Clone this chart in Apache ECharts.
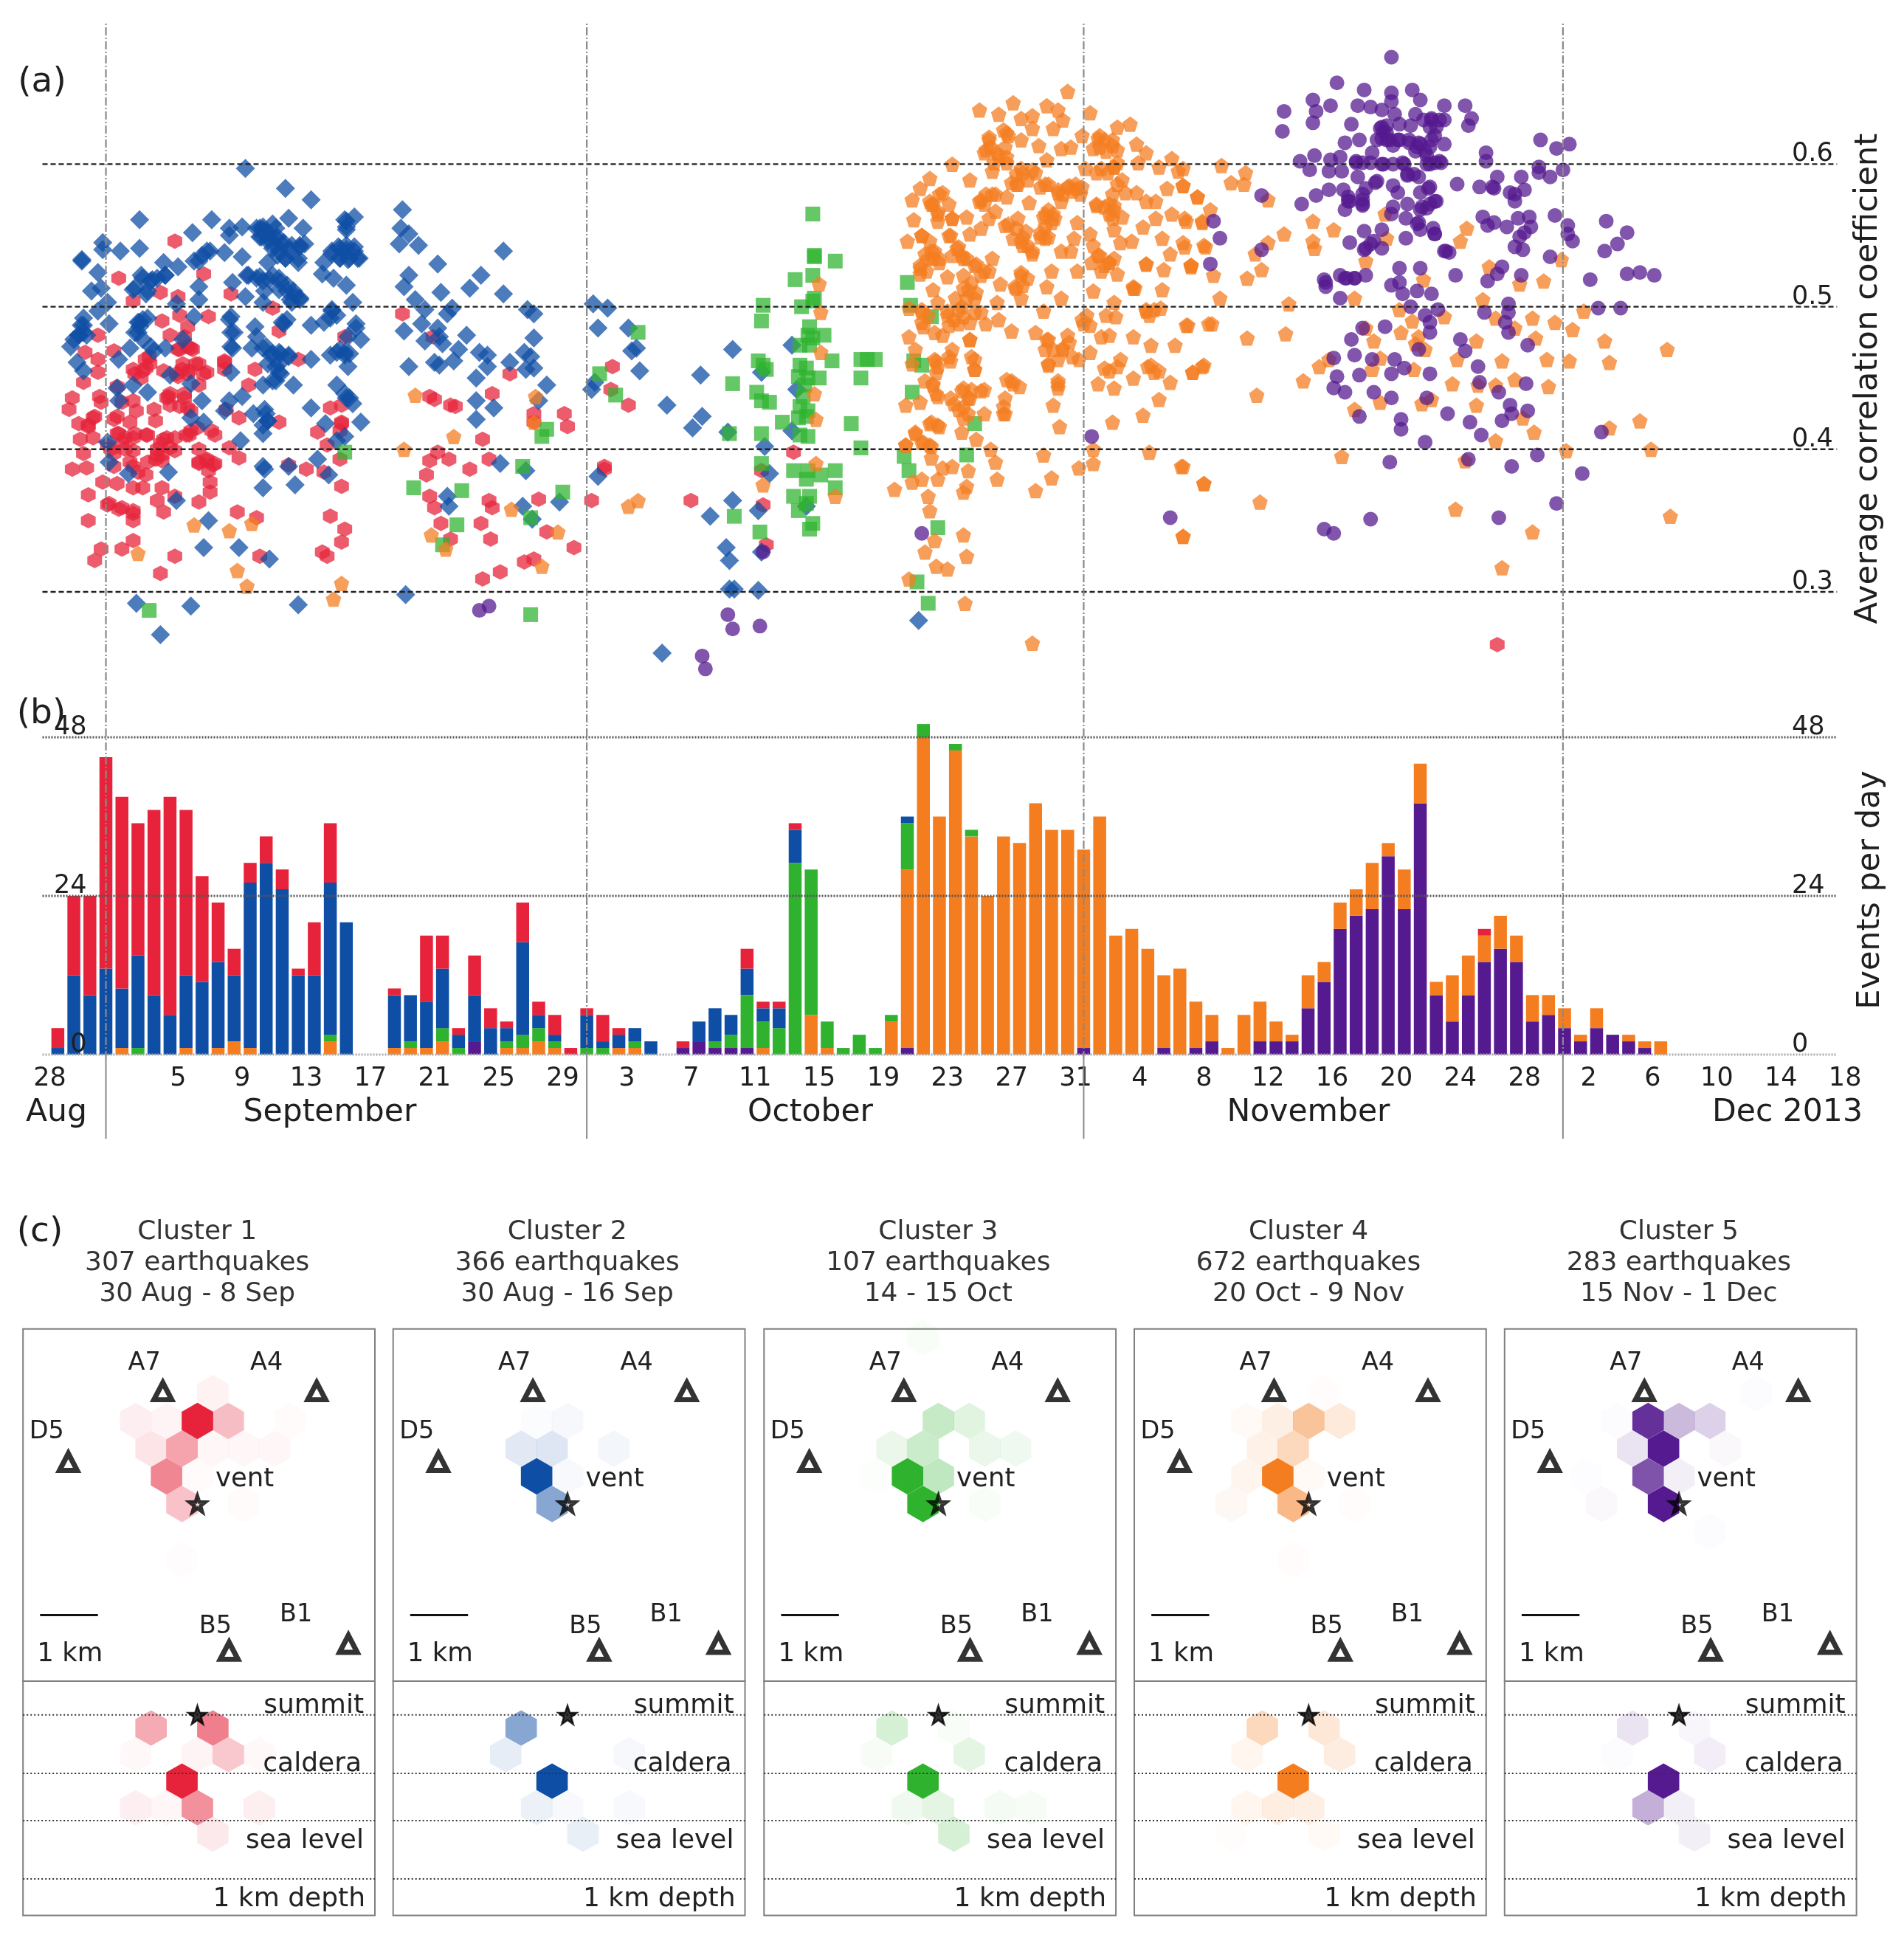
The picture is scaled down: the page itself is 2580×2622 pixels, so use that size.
<!DOCTYPE html>
<html><head><meta charset="utf-8">
<style>html,body{margin:0;padding:0;background:#fff}#c{width:2580px;height:2622px}</style>
<script src="https://cdn.jsdelivr.net/npm/echarts@6/dist/echarts.min.js"></script>
</head><body><div id="c"></div>
<script>
// ---------- panel (a): day since 28 Aug, average correlation coefficient ----------
const scatterBlue=[[12.2,.597],[14.7,.583],[16.3,.575],[5.6,.561],[10.1,.561],[19,.563],[18.5,.56],[8.9,.552],[11.2,.555],[12,.556],[13.1,.555],[13.6,.552],[14.1,.555],[14.9,.562],[15.8,.555],[11.2,.55],[3.3,.545],[3.3,.54],[4.4,.539],[5.6,.541],[2,.532],[2,.533],[3,.524],[7.1,.531],[8,.528],[9.3,.532],[9.8,.539],[10.9,.538],[12,.535],[13.1,.549],[13.6,.548],[14.1,.548],[14.6,.545],[15.1,.543],[15.6,.542],[14.3,.539],[14.7,.534],[15.5,.531],[13.6,.531],[14.1,.543],[13.3,.554],[12.3,.522],[13.1,.521],[13.7,.519],[14.3,.52],[14.8,.515],[15.2,.511],[15.6,.506],[15.1,.503],[14.3,.512],[13.4,.511],[13.3,.503],[18.5,.554],[18,.542],[18.5,.54],[19,.542],[19.2,.534],[18.6,.533],[17.6,.537],[17.1,.531],[18.1,.534],[17,.523],[17.7,.52],[18.5,.515],[11.4,.517],[9.3,.514],[12.2,.507],[9.3,.505],[5.7,.522],[6.4,.519],[5.2,.512],[7.2,.522],[6,.509],[2.6,.511],[3.2,.513],[3.6,.503],[7.9,.502],[3,.497],[2.1,.492],[3.7,.488],[5.6,.489],[9,.493],[11.3,.493],[14.6,.488],[17.6,.497],[18.9,.503],[16.3,.487],[17.1,.489],[19.1,.488],[1.3,.472],[1.8,.48],[2.3,.48],[2.1,.487],[5.5,.482],[5.6,.486],[6.1,.492],[5,.471],[8.3,.477],[6.5,.469],[7.2,.471],[11.3,.482],[11.4,.471],[12.8,.486],[12.9,.479],[12.6,.471],[19.4,.477],[18.6,.479],[18.4,.466],[17.5,.466],[17.9,.468],[19.1,.485],[13.3,.471],[13.8,.466],[14.3,.468],[14.9,.466],[13.6,.46],[14.3,.46],[14.1,.448],[14.3,.454],[16.3,.463],[18.6,.458],[1.7,.461],[2.1,.455],[4.3,.463],[4.2,.443],[4.3,.434],[5.2,.445],[6.1,.44],[7.5,.452],[8.8,.446],[9.5,.434],[11.3,.454],[13.3,.445],[15.2,.445],[17.9,.445],[18.5,.436],[18.9,.432],[12,.437],[11.2,.434],[10.9,.427],[12.7,.425],[13.4,.428],[13.6,.42],[13.3,.411],[16.3,.429],[17.2,.418],[19.4,.419],[18.4,.409],[17.9,.406],[9.6,.419],[8.8,.422],[11.9,.406],[3.6,.405],[3.7,.391],[4.9,.383],[7.4,.384],[13.3,.388],[13.4,.386],[14.9,.388],[16.7,.393],[17.4,.382],[13.3,.373],[15.3,.375],[24.8,.367],[7.9,.364],[9.9,.35],[9.6,.331],[11.8,.331],[13.7,.323],[24.9,.36],[5.4,.292],[8.8,.29],[15.5,.291],[6.9,.27],[22.2,.298],[22,.568],[21.9,.555],[22.4,.551],[21.8,.544],[23,.543],[28.3,.539],[24.2,.53],[26.9,.522],[26.2,.513],[28.3,.509],[22.4,.522],[22.1,.514],[24.4,.51],[22.8,.505],[23.4,.498],[25.1,.499],[24.8,.495],[29.8,.498],[30.2,.495],[22.1,.483],[23.2,.488],[24.2,.485],[24.3,.479],[23.4,.476],[24.5,.474],[26,.48],[25.5,.47],[30.2,.478],[26.8,.468],[27.3,.466],[22.4,.458],[24,.461],[24.3,.459],[25.2,.462],[27.3,.458],[28.7,.461],[29.6,.468],[30,.465],[30.2,.457],[29.7,.456],[26.6,.45],[31,.445],[30.5,.434],[26.6,.434],[27.7,.429],[26.6,.421],[28.1,.39],[29.7,.385],[29.5,.36],[30.1,.351],[31.8,.363],[33.9,.502],[34.8,.499],[34.2,.485],[36.1,.485],[36.6,.471],[36.3,.469],[36.8,.455],[33.8,.442],[34,.447],[40.6,.452],[38.5,.431],[40.7,.423],[40.1,.415],[42.6,.47],[44.4,.454],[46.3,.473],[46.6,.442],[42.3,.412],[46.3,.413],[44.6,.402],[34.2,.381],[44.9,.383],[42.6,.364],[41.2,.353],[44.2,.357],[47.2,.36],[42.2,.331],[42.4,.322],[44.4,.328],[42.4,.302],[42.7,.302],[44.2,.301],[38.2,.257],[54.2,.28],
[12.9,.555],[13.3,.556],[13.9,.558],[13.2,.549],[13.6,.546],[14.2,.549],[14.5,.544],[15,.539],[13.9,.541],[14.7,.534],[15.6,.543],[15.9,.544],[15.5,.534],[14.2,.536],[13.5,.551],[17.6,.539],[18.1,.541],[18.5,.543],[19,.539],[19.3,.534],[18.7,.534],[18.1,.534],[18.5,.556],[18.4,.561],[12.4,.522],[12.9,.52],[13.3,.518],[13.9,.522],[14.4,.517],[14.8,.511],[15.3,.508],[15.6,.505],[15,.505],[5.3,.513],[5.8,.52],[6.3,.518],[6.7,.52],[7.2,.522],[6.1,.511],[9.5,.536],[10,.539],[9,.532],[1.8,.48],[2.1,.482],[1.5,.477],[1.96,.487],[5.5,.489],[5.8,.491],[5.3,.482],[5.8,.477],[6.3,.472],[13.5,.472],[13.9,.467],[14.4,.467],[14.9,.465],[14.1,.458],[14.4,.453],[13.9,.448],[18.1,.47],[18.4,.468],[18.7,.467],[11.2,.491],[11.5,.482],[11.3,.472],[13.5,.425],[13.6,.42],[13.3,.417],[17.6,.498],[17.5,.492],[17.9,.494],[14.5,.489],[14.8,.491],[18.4,.439],[18.7,.436]];
const scatterRed=[[7.8,.546],[4.3,.52],[9.6,.523],[6.9,.51],[5.2,.504],[8,.507],[11.3,.509],[13.9,.499],[9.9,.493],[7,.49],[8.1,.494],[8.6,.486],[14.3,.483],[3,.48],[7.5,.48],[8.4,.479],[18.4,.479],[2.2,.468],[4,.469],[3,.463],[6.2,.465],[8,.47],[8.8,.471],[15.5,.463],[10.9,.462],[5.2,.456],[6,.457],[7.1,.455],[8.3,.46],[9.1,.46],[9.8,.454],[12.8,.456],[10.9,.456],[3,.454],[2.1,.447],[5.7,.45],[8,.451],[8.6,.453],[9.3,.445],[4.2,.444],[12.4,.445],[1.4,.436],[3.1,.437],[3.2,.433],[5.2,.434],[7.4,.437],[8.4,.436],[4.5,.433],[1.2,.428],[2.8,.423],[4.2,.423],[5.4,.427],[6.5,.428],[7.5,.431],[8.8,.427],[11,.428],[17.5,.429],[18.2,.431],[1.8,.418],[2.4,.416],[4,.421],[5,.419],[6.6,.42],[8.8,.413],[10.1,.413],[11.8,.422],[14.3,.419],[18.2,.419],[1.9,.407],[2.7,.408],[4.2,.411],[5.2,.408],[6,.41],[7.1,.407],[7.8,.408],[8.5,.41],[10.3,.41],[16.7,.412],[18.1,.413],[3.6,.403],[4.5,.405],[6.7,.4],[9.3,.4],[11.2,.401],[17.3,.403],[2.1,.397],[4,.397],[5.2,.399],[7,.396],[7.8,.399],[11.8,.394],[18.1,.393],[1.4,.386],[2.3,.387],[4,.388],[5.2,.388],[6.1,.391],[6.6,.393],[9.3,.39],[9.8,.393],[10.3,.39],[16,.386],[17.1,.384],[14.9,.389],[3.3,.377],[4.2,.376],[6,.382],[7,.373],[10,.377],[18.2,.374],[5.2,.373],[10,.37],[2.4,.368],[3.7,.362],[4.5,.359],[5.2,.357],[6.7,.364],[7.8,.367],[7.1,.356],[9.3,.363],[2.4,.35],[5.2,.35],[11.7,.356],[12.9,.352],[17.5,.353],[18.4,.344],[5.2,.336],[3.2,.33],[4.5,.33],[2.8,.322],[7.8,.325],[6.9,.313],[13.1,.325],[17,.328],[17.3,.325],[18.2,.335],[22,.495],[23.7,.437],[24,.435],[25,.431],[25.3,.43],[27.6,.439],[28.7,.453],[23.9,.479],[30.2,.425],[30.2,.419],[32.1,.425],[32.3,.416],[27,.407],[24.2,.398],[23.7,.392],[24.9,.393],[23.5,.382],[26.2,.386],[27.4,.393],[23.7,.367],[24,.359],[24.4,.348],[27.4,.364],[27.6,.359],[30.5,.365],[26.9,.348],[27.5,.337],[25,.337],[31,.342],[32.7,.331],[29.6,.321],[30.2,.323],[28.1,.314],[27,.309],[35.1,.458],[35,.442],[36.1,.431],[34.6,.388],[34.6,.386],[33.8,.364],[40,.364],[46.4,.398],[44.5,.361],[44.7,.333],[44.4,.385],[90.3,.263],
[5.95,.463],[5.8,.455],[6.25,.46],[8.1,.47],[8.6,.472],[8.9,.47],[8.25,.456],[8.7,.455],[9.3,.46],[9.6,.453],[7.9,.453],[7.5,.439],[8.4,.439],[8.1,.43],[8.6,.429],[7.3,.436],[4.3,.411],[4.7,.408],[5.3,.411],[6.1,.41],[4.7,.4],[6.9,.404],[7.3,.408],[6.7,.396],[7,.392],[3.8,.4],[7.5,.401],[9.3,.391],[9.8,.392],[10.2,.389],[9.9,.385],[3.6,.361],[4.3,.358],[5.2,.355],[2.4,.417],[2.7,.422],[5.3,.453],[5,.391],[5.5,.384],[5.8,.373],[8.7,.41],[9.2,.415],[10.9,.461],[18.2,.418]];
const scatterGreen=[[47.6,.565],[47.7,.535],[47.7,.536],[49,.532],[46.5,.519],[47.6,.522],[47.7,.506],[47.6,.504],[44.5,.501],[44.4,.49],[46.9,.5],[47.4,.486],[47.3,.48],[47.6,.478],[48.3,.48],[46.8,.473],[47.4,.473],[44.2,.462],[44.5,.459],[44.7,.456],[48.8,.462],[50.6,.463],[51.5,.463],[51,.463],[50.6,.45],[46.8,.459],[47.2,.457],[46.7,.451],[47.3,.45],[48,.45],[47.1,.445],[42.6,.446],[44.1,.44],[44.4,.434],[44.9,.433],[47,.437],[46.8,.43],[47.3,.427],[46.7,.422],[47.2,.423],[45.7,.419],[50,.418],[44.4,.411],[42.4,.411],[46.8,.41],[47.3,.409],[50.6,.401],[44.4,.39],[46.4,.385],[47.3,.385],[47.2,.379],[48.1,.382],[49,.385],[49,.373],[46.4,.367],[47.4,.367],[46.7,.357],[47.2,.362],[42.7,.353],[44.3,.342],[47.6,.348],[47.4,.344],[53.5,.517],[53.7,.501],[55,.493],[53.9,.462],[54.4,.459],[53.8,.44],[57.7,.418],[53.3,.395],[57.2,.396],[53.6,.385],[55.4,.345],[54.1,.307],[54.8,.292],[18.4,.398],[22.7,.373],[25.7,.371],[25.4,.347],[24.5,.333],[29.5,.388],[31,.414],[30.7,.409],[32,.37],[30,.352],[30,.284],[6.2,.287],[34.3,.453],[35.3,.438],[36.7,.482]];
const scatterOrange=[[22.8,.438],[25.2,.409],[22.1,.4],[30.3,.437],[30.2,.419],[9,.347],[11.2,.343],[12.6,.348],[5.5,.327],[11.7,.315],[12.3,.304],[18.2,.306],[17.7,.295],[23.8,.34],[24.7,.33],[28.8,.358],[31.7,.342],[30.7,.318],[63.5,.651],[58,.638],[59.2,.635],[60.1,.643],[62.2,.641],[62.9,.638],[64.9,.636],[60.6,.632],[61.3,.634],[61.3,.625],[63.2,.631],[62.6,.625],[66.6,.626],[67.4,.628],[59.7,.622],[58.6,.617],[60.6,.617],[65.4,.618],[64.4,.62],[66.3,.617],[67.8,.614],[58.3,.608],[59.1,.608],[59.7,.605],[61.7,.613],[63.1,.611],[63.7,.612],[65.1,.611],[65.9,.609],[68.4,.608],[70,.604],[56.3,.6],[58.8,.595],[60.6,.597],[61.5,.594],[62.2,.603],[64.6,.597],[65.6,.597],[66.4,.598],[67.9,.601],[69.2,.598],[70.4,.595],[54.9,.59],[54.3,.583],[57.4,.589],[60.3,.586],[62.1,.586],[63.6,.585],[64.1,.583],[66.9,.589],[67.8,.58],[69.7,.583],[70.7,.585],[62.9,.58],[55.7,.58],[53.8,.575],[55,.572],[58,.574],[58.8,.579],[61.1,.573],[63.1,.574],[65.3,.571],[66.4,.571],[67.1,.58],[68.4,.574],[69,.574],[71.6,.577],[53.9,.561],[55.4,.565],[56.3,.562],[57.2,.563],[58.6,.562],[59.6,.557],[62.1,.565],[62.5,.559],[64.1,.559],[66.1,.565],[68.2,.556],[69,.562],[70,.565],[70.9,.56],[71.9,.56],[58.1,.555],[60.3,.555],[61.8,.552],[64.9,.551],[66.4,.554],[60.1,.548],[62.1,.548],[63.9,.548],[53.5,.546],[54.4,.55],[56.2,.55],[55,.539],[56.7,.542],[60.7,.543],[61.3,.539],[63.7,.539],[65.1,.543],[66.8,.545],[67.5,.546],[69.4,.548],[70.7,.545],[72,.543],[54.3,.529],[54.8,.534],[55.5,.531],[57,.534],[57.7,.529],[58.8,.534],[63.1,.539],[65.4,.536],[66.1,.531],[68.4,.53],[69.9,.537],[71.2,.528],[69.5,.526],[54.3,.523],[56,.521],[57,.522],[58.3,.525],[60.6,.522],[62.5,.525],[64.1,.525],[65.6,.525],[66.6,.523],[55.1,.512],[57.3,.512],[59.3,.516],[60.2,.514],[62.2,.514],[65.1,.511],[67.6,.514],[69.4,.512],[55.4,.503],[56.5,.506],[57.7,.506],[59.1,.503],[60.6,.506],[63.1,.506],[66.4,.503],[53.6,.499],[54.4,.496],[56,.497],[56.9,.5],[58.1,.496],[62,.497],[65.9,.494],[68.4,.497],[69.3,.499],[54.5,.486],[55.2,.482],[56.7,.488],[58.4,.488],[59.2,.491],[60,.483],[61.5,.482],[64.5,.488],[66.5,.493],[70.9,.487],[72.3,.488],[53.6,.479],[55.7,.48],[57.4,.477],[62.2,.477],[63.5,.48],[65.6,.479],[67.6,.479],[66.1,.48],[54,.47],[56.3,.47],[57.7,.463],[62.1,.47],[63.2,.471],[64.9,.468],[68.7,.473],[70.2,.473],[55.3,.462],[53.8,.46],[56.2,.462],[62.3,.459],[64.2,.463],[66.8,.463],[68.7,.459],[71.9,.458],[55.3,.454],[57.7,.456],[65.8,.457],[67.6,.45],[68.9,.454],[71.3,.454],[69.9,.447],[55.1,.445],[60,.448],[60.5,.444],[62.9,.446],[65.4,.446],[66.4,.443],[55.3,.439],[57,.443],[58.3,.442],[56.2,.436],[57.3,.436],[59.6,.436],[62.6,.431],[69.2,.435],[53.4,.431],[54.3,.433],[56.7,.428],[57.3,.425],[58.3,.425],[59.6,.425],[68.2,.424],[55,.419],[55.5,.416],[63,.416],[66.3,.419],[56.9,.412],[54,.412],[57.8,.407],[54.5,.405],[55,.402],[53.4,.403],[58.7,.4],[65.1,.4],[68.6,.398],[55,.394],[55.7,.387],[56.3,.388],[57.3,.385],[59,.391],[62,.396],[65.1,.39],[64.2,.387],[70.6,.388],[53.8,.377],[54.4,.379],[55.4,.379],[57.2,.374],[59.1,.379],[62.5,.38],[72,.376],[52.7,.372],[57,.37],[61.5,.371],[54.8,.367],[54.9,.357],[49,.367],[44.5,.375],[36.1,.36],[36.7,.364],[57,.34],[55.2,.336],[54.6,.328],[57.2,.325],[55.3,.318],[56,.316],[53.6,.309],[57.1,.292],[61.3,.264],[70.7,.339],[48,.516],[48.1,.496],[47.7,.439],[47.8,.421],[47.8,.39],[48.1,.468],[73.1,.599],[74.6,.594],[73.7,.587],[74.5,.586],[70.7,.597],[70.7,.585],[71.6,.577],[72.4,.568],[76,.575],[70.8,.562],[71.9,.559],[78.8,.56],[80.1,.554],[77,.551],[76,.545],[75.2,.537],[78.8,.546],[78.9,.541],[83.3,.565],[83.4,.548],[88.4,.555],[88,.546],[82.1,.532],[72.1,.542],[70.8,.542],[71.2,.529],[72.6,.522],[75.6,.526],[74.7,.52],[73,.506],[77.3,.502],[81.4,.506],[85.7,.519],[89.8,.528],[91.7,.516],[93.2,.518],[94.3,.533],[89.4,.505],[84.2,.498],[95.7,.497],[71,.487],[72.5,.488],[74.7,.478],[77.1,.481],[85,.49],[87,.493],[90.2,.492],[91.4,.485],[92.5,.492],[93.9,.489],[95,.484],[82.1,.485],[82.6,.476],[84.3,.482],[85.4,.479],[85.2,.474],[85.8,.47],[89,.476],[92.7,.478],[97,.476],[100.9,.47],[87.8,.463],[90.6,.462],[93.4,.463],[94.8,.462],[97.3,.461],[72,.459],[71.3,.454],[79.2,.458],[79.8,.463],[78.2,.448],[83,.464],[82.5,.456],[85.1,.456],[87.5,.446],[75.3,.438],[89.1,.445],[90.2,.445],[91.4,.449],[93.5,.444],[81.4,.428],[83,.433],[85.6,.432],[86.2,.435],[89,.431],[91.9,.422],[97.3,.415],[99.2,.42],[92.6,.412],[90.2,.406],[94.6,.399],[99.9,.4],[80.6,.395],[88.3,.392],[70.7,.388],[72,.376],[75.5,.363],[87.7,.358],[101.1,.353],[92.5,.342],[70.7,.339],[90.6,.317],
[58.4,.61],[58.7,.612],[59.2,.606],[59.6,.612],[59.7,.601],[58.9,.601],[59.8,.62],[58.6,.619],[59.5,.624],[60.3,.593],[60.7,.594],[60.4,.586],[60,.587],[61,.589],[61.3,.596],[61.8,.584],[62.3,.586],[62.9,.582],[63.5,.584],[64,.586],[64.4,.584],[63.2,.579],[63.8,.581],[64.3,.579],[65.8,.617],[66.3,.613],[66.6,.61],[65.5,.612],[66,.594],[65.3,.594],[66.4,.598],[65.5,.62],[66.6,.601],[62.3,.568],[62,.563],[62.6,.565],[62.1,.556],[62.3,.549],[61.8,.549],[62.7,.562],[66.6,.586],[66.3,.579],[66.1,.572],[66.4,.568],[65.8,.57],[66.3,.562],[66.9,.563],[65.3,.572],[55.1,.572],[55.4,.567],[55.5,.579],[55.4,.56],[56.1,.572],[56.3,.562],[54.9,.574],[58.1,.575],[58.4,.579],[59,.579],[59.7,.577],[58.3,.572],[59,.567],[59.8,.558],[60.4,.562],[60.7,.549],[61,.543],[61.3,.537],[60.6,.546],[60.9,.553],[54.4,.55],[54.9,.546],[55.2,.539],[55.5,.534],[54.6,.537],[55.1,.534],[56.1,.55],[56.6,.541],[56.9,.536],[57.2,.534],[57.8,.53],[56.3,.536],[57.4,.551],[54.3,.527],[54.7,.525],[57,.513],[57.5,.517],[57.2,.506],[58.1,.522],[58.6,.525],[57.8,.51],[60.6,.524],[60.3,.513],[61,.52],[60.7,.515],[54.4,.498],[54.8,.494],[54.4,.489],[56,.494],[56.4,.491],[57,.493],[57.7,.496],[56.7,.498],[56.1,.487],[57.4,.489],[65.5,.536],[66.1,.531],[65.8,.529],[66.4,.534],[65,.531],[64.4,.491],[64.9,.487],[64.7,.494],[68.4,.498],[68.9,.498],[68.6,.494],[62.3,.477],[62.6,.47],[62.3,.46],[63.2,.47],[63.6,.475],[62.9,.463],[63.8,.465],[56.9,.441],[57.5,.442],[58.1,.441],[56.4,.432],[57,.43],[57.4,.436],[57,.422],[55.2,.463],[55.4,.458],[55.1,.446],[55.4,.437],[54.6,.448],[68.5,.458],[69.2,.455],[71.2,.529],[68.4,.53],[67.6,.513],[67.7,.513],[57.4,.477],[57.5,.465],[57.7,.456],[56.1,.465],[54.9,.418],[55.4,.417],[54,.411],[54.9,.403],[54.4,.405],[53.4,.403],[59.5,.43],[59.5,.425],[60.1,.446],[59.7,.449],[62.9,.448],[62.9,.443],[66.1,.455],[66.6,.458]];
const scatterPurple=[[83.7,.675],[80.3,.657],[77,.637],[76.9,.623],[78.8,.645],[79,.637],[78.8,.629],[79.9,.641],[81.6,.641],[82,.652],[82.4,.64],[83.1,.638],[83.7,.65],[83.7,.644],[85,.652],[85.5,.645],[87,.641],[88.3,.641],[88.7,.632],[88.5,.627],[81.2,.628],[83.9,.635],[85.2,.635],[86.2,.632],[87,.631],[83.1,.626],[84.2,.628],[84.9,.627],[86.1,.626],[86.5,.626],[80.8,.615],[81.7,.617],[82.8,.617],[83.4,.617],[84.1,.617],[84.8,.615],[85.5,.614],[86.2,.617],[87,.614],[83.2,.623],[85.8,.609],[78,.602],[78.9,.606],[78.6,.596],[79.9,.603],[80.5,.605],[79.8,.595],[80.6,.595],[81.5,.602],[82.5,.608],[83.2,.6],[84.4,.601],[85.2,.609],[86.1,.6],[86.7,.602],[89.6,.608],[89.6,.602],[93,.617],[94,.611],[94.8,.614],[92.9,.598],[92.9,.594],[93.6,.591],[94.4,.596],[81.6,.591],[82.8,.588],[84.7,.592],[85.4,.591],[87.8,.586],[90.3,.591],[91.8,.591],[89.2,.584],[90.1,.583],[92,.582],[91.1,.58],[91.4,.579],[91.4,.574],[79.8,.582],[80.7,.582],[79,.578],[82.1,.583],[83.8,.585],[84.1,.58],[85.5,.58],[86,.583],[78.1,.572],[81,.574],[81.9,.575],[81.9,.571],[80.8,.568],[83.8,.57],[84.7,.572],[86.4,.574],[85.9,.569],[85.5,.568],[83.7,.565],[84.6,.562],[85.4,.559],[85.5,.554],[86.3,.555],[86.4,.551],[89.4,.563],[89.7,.557],[90.1,.559],[90.9,.556],[91.6,.562],[92.3,.563],[92.4,.556],[92,.552],[91.7,.549],[93.9,.564],[94.7,.557],[94.7,.551],[95,.546],[97.1,.56],[98.4,.552],[97.8,.544],[97,.539],[72.6,.56],[73,.548],[72.4,.53],[75.6,.578],[75.6,.54],[82,.553],[81.1,.545],[82.6,.546],[83.1,.554],[82,.54],[83.1,.541],[84.6,.548],[87,.539],[87.3,.538],[91.4,.542],[91.9,.54],[93.6,.535],[79.5,.519],[79.6,.514],[80.5,.522],[80.9,.52],[81.4,.52],[82.1,.522],[80.5,.506],[84.2,.527],[84.2,.517],[85.5,.527],[83.7,.515],[84.4,.509],[85.3,.511],[86.2,.509],[87.7,.522],[90.6,.528],[90.3,.523],[89.7,.518],[91.8,.522],[96.1,.519],[98.4,.523],[99.2,.524],[100.1,.522],[84.9,.5],[86.6,.498],[89.5,.496],[91,.502],[91,.496],[96.6,.499],[98,.499],[85.8,.494],[86.1,.489],[86.1,.482],[90.8,.489],[91,.482],[81.9,.485],[83.3,.486],[81.2,.477],[88,.477],[88.3,.469],[92.2,.473],[85.4,.47],[81.4,.466],[80.1,.464],[82.5,.463],[83.9,.463],[84.5,.457],[89.1,.458],[80.3,.451],[81.7,.452],[83.7,.453],[86.1,.453],[89.2,.447],[92.1,.446],[80.1,.443],[80.8,.44],[82.6,.44],[83.7,.436],[85.9,.436],[90.4,.44],[91.1,.431],[92.2,.427],[91.2,.425],[81.7,.423],[87.2,.425],[84.3,.421],[84.3,.414],[88.6,.419],[90.6,.42],[89.3,.41],[96.8,.412],[85.8,.405],[88.5,.393],[83.6,.391],[91.2,.388],[92.8,.396],[95.6,.383],[94,.362],[90.4,.352],[82.4,.351],[79.5,.344],[80.1,.341],[65,.409],[69.9,.352],[54.4,.341],[44.5,.328],[42.3,.284],[42.6,.274],[44.3,.276],[40.7,.255],[40.9,.246],[26.8,.287],[27.4,.29],
[83,.625],[83.4,.627],[83.1,.618],[83.6,.617],[84.2,.617],[84.8,.617],[85.4,.615],[86.1,.612],[83.4,.622],[83.8,.613],[86.2,.631],[86.7,.631],[85.7,.631],[86.4,.62],[85.3,.612],[85.9,.606],[81.5,.601],[81.9,.601],[82.4,.601],[83.1,.6],[83.8,.6],[84.5,.6],[85.9,.6],[86.4,.601],[86.8,.601],[81,.577],[81.9,.579],[81.1,.574],[81.9,.572],[84.7,.593],[85.1,.593],[82.7,.587],[86.1,.584],[85.6,.57],[86.1,.572],[86.5,.574],[86.4,.551],[85.3,.558],[82.4,.544],[82.1,.541],[87.1,.539],[90,.584],[79.6,.517],[80.8,.52],[81.4,.52]];
const corrLevels=[0.6,0.5,0.4,0.3];

// ---------- panel (b): events per day, one value per day from 28 Aug ----------
const eventsPurple=[0,0,0,0,0,0,0,0,0,0,0,0,0,0,0,0,0,0,0,0,0,0,0,0,0,0,2,0,0,0,0,0,0,0,0,0,0,0,0,1,2,1,1,1,0,0,0,0,0,0,0,0,0,1,0,0,0,0,0,0,0,0,0,0,1,0,0,0,0,1,0,1,2,0,0,2,2,2,7,11,19,21,22,30,22,38,9,5,9,14,16,14,5,6,4,2,4,3,2,1,0];
const eventsOrange=[0,0,0,0,1,0,0,0,1,0,1,2,1,0,0,0,0,2,0,0,0,1,1,1,2,0,0,0,1,1,2,1,0,0,0,1,1,0,0,0,0,0,0,0,1,0,0,6,1,0,0,0,5,27,48,36,46,33,24,33,32,38,34,34,30,36,18,19,16,11,13,7,4,1,6,6,3,1,5,3,4,4,7,2,6,6,2,7,6,4,5,4,4,3,3,1,3,0,1,1,2];
const eventsGreen=[0,0,0,0,0,1,0,0,0,0,0,0,0,0,0,0,0,1,0,0,0,0,1,0,2,1,0,0,1,2,2,1,0,1,1,0,1,0,0,0,0,1,2,8,4,4,29,22,4,1,3,1,1,7,2,0,1,1,0,0,0,0,0,0,0,0,0,0,0,0,0,0,0,0,0,0,0,0,0,0,0,0,0,0,0,0,0,0,0,0,0,0,0,0,0,0,0,0,0,0,0];
const eventsBlue=[1,12,9,13,9,14,9,6,11,11,13,10,25,29,25,12,12,23,20,0,0,8,7,7,9,2,7,4,2,14,2,1,0,5,1,2,2,2,0,0,3,5,3,4,2,3,5,0,0,0,0,0,0,1,0,0,0,0,0,0,0,0,0,0,0,0,0,0,0,0,0,0,0,0,0,0,0,0,0,0,0,0,0,0,0,0,0,0,0,0,0,0,0,0,0,0,0,0,0,0,0];
const eventsRed=[3,12,15,32,29,20,28,33,25,16,9,4,3,4,3,1,8,9,0,0,0,1,0,10,5,1,6,3,1,6,2,3,1,1,4,1,0,0,0,1,0,0,0,3,1,1,1,0,0,0,0,0,0,0,0,0,0,0,0,0,0,0,0,0,0,0,0,0,0,0,0,0,0,0,0,0,0,0,0,0,0,0,0,0,0,0,0,0,0,1,0,0,0,0,0,0,0,0,0,0,0];
const eventLevels=[48,24,0];
const dayTickLabels=['28','','5','9','13','17','21','25','29','3','7','11','15','19','23','27','31','4','8','12','16','20','24','28','2','6','10','14','18'];
const monthBoundaries=[3.5,33.5,64.5,94.4];
const monthLabels=['Aug','September','October','November','Dec 2013'];

// ---------- panel (c): hexbin cells [column, row, share of the densest cell] ----------
const mapCluster1=[[0,3,1],[2,3,.3],[-1,2,.42],[-2,1,.55],[-1,0,.28],[-4,3,.07],[-2,3,.05],[-3,2,.12],[1,4,.06],[1,2,.04],[3,2,.04],[5,2,.04],[6,3,.02],[3,0,.02],[-1,-2,.01],[0,1,.02]];
const secCluster1=[[-3,2,.38],[1,2,.58],[2,1,.25],[-1,0,1],[0,-1,.5],[1,-2,.1],[-4,-1,.07],[-2,-1,.04],[4,-1,.08],[-4,1,.03],[0,1,.05],[4,1,.03]];
const mapCluster2=[[-2,1,1],[-1,0,.5],[-3,2,.12],[-1,2,.14],[3,2,.05],[0,3,.04],[0,1,.03],[-2,3,.02]];
const secCluster2=[[-3,2,.5],[-1,0,1],[-4,1,.1],[4,1,.04],[-2,-1,.08],[0,-1,.03],[1,-2,.09],[4,-1,.03]];
const mapCluster3=[[-2,1,1],[-1,0,1],[0,3,.28],[-1,2,.25],[0,1,.3],[2,3,.15],[-3,2,.1],[3,2,.1],[5,2,.08],[3,0,.03],[-4,1,.02],[-1,6,.03]];
const secCluster3=[[-3,2,.2],[-1,0,1],[2,1,.13],[-4,1,.04],[1,-2,.2],[0,-1,.13],[-2,-1,.08],[4,-1,.05],[6,-1,.04],[1,2,.03]];
const mapCluster4=[[-2,1,1],[-1,0,.55],[0,3,.45],[-1,2,.3],[2,3,.16],[-2,3,.12],[-3,2,.1],[-4,1,.08],[-5,0,.05],[-4,3,.04],[0,1,.04],[1,4,.02],[3,0,.02],[-1,-2,.02]];
const secCluster4=[[-3,2,.3],[-1,0,1],[1,2,.18],[2,1,.14],[-4,1,.07],[-4,-1,.07],[-2,-1,.13],[0,-1,.12],[1,-2,.04],[-5,-2,.01]];
const mapCluster5=[[-2,3,.9],[-1,2,1],[-2,1,.75],[-1,0,1],[0,3,.3],[2,3,.2],[-3,2,.12],[0,1,.07],[-5,0,.03],[2,-1,.02],[3,2,.03],[-4,3,.02],[-6,1,.01],[5,4,.02]];
const secCluster5=[[-3,2,.12],[-1,0,1],[-2,-1,.35],[0,-1,.07],[1,-2,.07],[1,2,.04],[2,1,.08],[-4,1,.02]];
const clusterNames=['Cluster 1','Cluster 2','Cluster 3','Cluster 4','Cluster 5'];
const clusterCounts=['307 earthquakes','366 earthquakes','107 earthquakes','672 earthquakes','283 earthquakes'];
const clusterDates=['30 Aug - 8 Sep','30 Aug - 16 Sep','14 - 15 Oct','20 Oct - 9 Nov','15 Nov - 1 Dec'];
const stationNames=['A7','A4','D5','B5','B1'];
const stationX=[-0.6,2.07,-2.24,0.55,2.62];   // km east of vent
const stationY=[1.96,1.96,0.73,-2.55,-2.43];  // km north of vent
const sectionLevels=[1.81,0.81,0,-1];         // km above sea level

const RED='#e6233a',BLUE='#0f4ea5',GREEN='#2fb32f',ORANGE='#f47d20',PURPLE='#551a8f';
const FONT='"DejaVu Sans"',INK='#1f1f1f';
const PX=21.72;
const hexPath='path://M0,-100 L86.6,-50 L86.6,50 L0,100 L-86.6,50 L-86.6,-50 Z';
const pentPath='path://M0,-100 L95.1,-30.9 L58.8,80.9 L-58.8,80.9 L-95.1,-30.9 Z';
const starPath='path://M0,-100 L23.5,-32.4 L95.1,-30.9 L38,12.4 L58.8,80.9 L0,40 L-58.8,80.9 L-38,12.4 L-95.1,-30.9 L-23.5,-32.4 Z';

const chart=echarts.init(document.getElementById('c'));
const grids=[],xAxes=[],yAxes=[],series=[],graphic=[];
const text=(x,y,t,size,o={})=>graphic.push(Object.assign({type:'text',x:x+(o.rotation?3:0),y:y+(o.rotation?0:3),silent:true,z:100,style:{text:t,font:`${size}px ${FONT}`,fill:o.fill||INK,textAlign:o.align||'center',textVerticalAlign:'middle',verticalAlign:'middle'}},o.rotation?{rotation:o.rotation}:{}));

// main grids: a common day scale starting at the 28 Aug tick
const mainLeft=67.5, mainWidth=112*PX;
const topA=222.4-193.2, hA=966, topB=1429-72*8.958, hB=72*8.958;
grids.push({left:mainLeft,width:mainWidth,top:topA,height:hA});
grids.push({left:mainLeft,width:mainWidth,top:topB,height:hB});
grids.push({left:mainLeft,width:mainWidth,top:30,height:1513});
grids.push({left:mainLeft,width:mainWidth,top:topB,height:hB});
// wider grids for the horizontal guide lines, which start just before the first tick
grids.push({left:mainLeft-2*PX,width:114*PX,top:topA,height:hA});
grids.push({left:mainLeft-2*PX,width:114*PX,top:topB,height:hB});
const baseX={type:'value',min:0,max:112,interval:4,splitLine:{show:false},axisLine:{show:false},axisTick:{show:false}};
xAxes.push(Object.assign({},baseX,{gridIndex:0,axisLabel:{show:false}}));
xAxes.push(Object.assign({},baseX,{gridIndex:1,axisLabel:{show:true,color:INK,fontFamily:FONT,fontSize:35,margin:15,showMinLabel:true,showMaxLabel:true,formatter:v=>dayTickLabels[Math.round(v/4)]||''}}));
xAxes.push(Object.assign({},baseX,{gridIndex:2,axisLabel:{show:false}}));
xAxes.push({type:'category',gridIndex:3,data:Array.from({length:112},(_,i)=>String(i)),show:false,boundaryGap:true});
xAxes.push({type:'value',gridIndex:4,min:-2,max:112,show:false,splitLine:{show:false}});
xAxes.push({type:'value',gridIndex:5,min:-2,max:112,show:false,splitLine:{show:false}});
const noLines={splitLine:{show:false},axisLine:{show:false},axisTick:{show:false}};
yAxes.push(Object.assign({type:'value',gridIndex:0,z:20,min:0.2,max:0.7,interval:0.1,position:'right',offset:-72.1},noLines,{axisLabel:{color:INK,fontFamily:FONT,fontSize:35,lineHeight:26,margin:0,align:'left',verticalAlign:'bottom',showMinLabel:false,showMaxLabel:false,formatter:v=>v.toFixed(1)}}));
yAxes.push(Object.assign({type:'value',gridIndex:1,z:20,min:0,max:72,interval:24,position:'left',offset:-50},noLines,{axisLabel:{color:INK,fontFamily:FONT,fontSize:35,lineHeight:26,margin:0,align:'right',verticalAlign:'bottom',showMaxLabel:false}}));
yAxes.push(Object.assign({type:'value',gridIndex:1,z:20,min:0,max:72,interval:24,position:'right',offset:-72.1},noLines,{axisLabel:{color:INK,fontFamily:FONT,fontSize:35,lineHeight:26,margin:0,align:'left',verticalAlign:'bottom',showMaxLabel:false}}));
yAxes.push(Object.assign({type:'value',gridIndex:2,min:0,max:1,show:false},noLines));
yAxes.push(Object.assign({type:'value',gridIndex:3,min:0,max:72,show:false},noLines));
yAxes.push(Object.assign({type:'value',gridIndex:4,min:0.2,max:0.7,show:false},noLines));
yAxes.push(Object.assign({type:'value',gridIndex:5,min:0,max:72,show:false},noLines));

const sc=(data,symbol,size,color)=>series.push({type:'scatter',xAxisIndex:0,yAxisIndex:0,data,symbol,symbolSize:size,silent:true,clip:false,itemStyle:{color,opacity:.74},z:2});
sc(scatterRed,hexPath,[20,21],RED);
sc(scatterBlue,'diamond',[26,26],BLUE);
sc(scatterGreen,'rect',[20,20],GREEN);
sc(scatterOrange,pentPath,[21,21],ORANGE);
sc(scatterPurple,'circle',20,PURPLE);

const lineSer=(xi,yi,pts,color,width,type,z=5)=>series.push({type:'line',xAxisIndex:xi,yAxisIndex:yi,data:pts,symbol:'none',silent:true,clip:false,lineStyle:{color,width,type},z});
const hFrom=-0.46,hTo=111.5;
corrLevels.forEach(v=>lineSer(4,5,[[hFrom,v],[hTo,v]],'#222',2.4,[7,4]));

[[eventsPurple,PURPLE],[eventsOrange,ORANGE],[eventsGreen,GREEN],[eventsBlue,BLUE],[eventsRed,RED]].forEach(([a,c])=>series.push({type:'bar',xAxisIndex:3,yAxisIndex:4,stack:'day',barWidth:17.5,silent:true,itemStyle:{color:c},data:a,z:2}));
eventLevels.forEach(v=>lineSer(5,6,[[hFrom,v],[hTo,v]],v===0?'#aaa':'#555',3,[2,2]));

monthBoundaries.forEach(d=>{
  lineSer(2,3,[[d,0.0714],[d,1]],'#8a8a8a',2.2,[11,3,2,3]);
  lineSer(2,3,[[d,0],[d,0.0714]],'#8a8a8a',2,'solid');
});

// month labels & panel letters & axis titles
[[76.5,0],[447,1],[1098,2],[1773,3],[2422,4]].forEach(([x,i])=>text(x,1505,monthLabels[i],42.5));
text(57,109,'(a)',47);text(56,965,'(b)',47);text(54,1667,'(c)',47);
text(2529,513,'Average correlation coefficient',43.4,{rotation:Math.PI/2});
text(2532,1206,'Events per day',43,{rotation:Math.PI/2});

// panel (c)
const hexDx=0.268,hexDyMap=0.481,hexDySec=0.455,hexSec0=0.677;
const boxX=[31.2,532.7,1035.3,1537,2038.8];
const boxW=476.8;
const maps=[mapCluster1,mapCluster2,mapCluster3,mapCluster4,mapCluster5];
const secs=[secCluster1,secCluster2,secCluster3,secCluster4,secCluster5];
const colors=[RED,BLUE,GREEN,ORANGE,PURPLE];
const frame={show:true,borderColor:'#808080',borderWidth:2,backgroundColor:'transparent'};
const hidden={type:'value',show:false,splitLine:{show:false}};
boxX.forEach((bx,k)=>{
  const gm=grids.length,gs=gm+1;
  grids.push(Object.assign({left:bx,width:boxW,top:1800.8,height:477.2},frame));
  grids.push(Object.assign({left:bx,width:boxW,top:2278,height:317.4},frame));
  xAxes.push(Object.assign({},hidden,{gridIndex:gm,min:-3.026,max:3.08}));
  yAxes.push(Object.assign({},hidden,{gridIndex:gm,min:-3.077,max:3.04}));
  xAxes.push(Object.assign({},hidden,{gridIndex:gs,min:-3.026,max:3.08}));
  yAxes.push(Object.assign({},hidden,{gridIndex:gs,min:-1.625,max:2.39}));
  const xm=xAxes.length-2,ym=yAxes.length-2,xs=xAxes.length-1,ys=yAxes.length-1;
  const cell=(i,y,w)=>({value:[i*hexDx,y],itemStyle:{opacity:w}});
  series.push({type:'scatter',xAxisIndex:xm,yAxisIndex:ym,symbol:hexPath,symbolSize:[42.6,49.5],clip:true,silent:true,itemStyle:{color:colors[k]},data:maps[k].map(c=>cell(c[0],c[1]*hexDyMap,c[2])),z:2});
  series.push({type:'scatter',xAxisIndex:xs,yAxisIndex:ys,symbol:hexPath,symbolSize:[42.6,48],clip:true,silent:true,itemStyle:{color:colors[k]},data:secs[k].map(c=>cell(c[0],hexSec0+c[1]*hexDySec,c[2])),z:2});
  series.push({type:'scatter',xAxisIndex:xm,yAxisIndex:ym,symbol:'triangle',symbolSize:[24,23],silent:true,itemStyle:{color:'transparent',borderColor:'#000',borderWidth:7},data:stationX.map((x,i)=>[x,stationY[i]]),z:4});
  series.push({type:'scatter',xAxisIndex:xm,yAxisIndex:ym,symbol:starPath,symbolSize:21,silent:true,itemStyle:{color:'transparent',borderColor:'#000',borderWidth:5},data:[[0,0]],z:4});
  series.push({type:'scatter',xAxisIndex:xs,yAxisIndex:ys,symbol:starPath,symbolSize:25,silent:true,itemStyle:{color:'#000',borderColor:'#000',borderWidth:2.5},data:[[0,sectionLevels[0]]],z:4});
  sectionLevels.forEach(v=>lineSer(xs,ys,[[-3.026,v],[3.08,v]],'#333',2,[2,3],3));
  lineSer(xm,ym,[[-2.73,-1.93],[-1.726,-1.93]],'#111',3.2,'solid',3);

  const cx=bx+236;
  text(cx,1667,clusterNames[k],36,{fill:'#333'});
  text(cx,1709,clusterCounts[k],36,{fill:'#333'});
  text(cx,1751,clusterDates[k],36,{fill:'#333'});
  [[164.5,1844.5],[330,1844.5],[32,1937.7],[260.6,2201],[370,2185]].forEach(([dx,y],i)=>text(bx+dx,y,stationNames[i],33.5,{fill:'#222'}));
  text(bx+300.4,2002,'vent',35.5,{fill:'#222'});
  text(bx+63.6,2239,'1 km',35.5,{fill:'#222'});
  const r=bx+boxW;
  text(r-15,2309,'summit',36,{align:'right',fill:'#222'});
  text(r-18,2387.5,'caldera',36,{align:'right',fill:'#222'});
  text(r-15,2492,'sea level',36,{align:'right',fill:'#222'});
  text(r-13,2571,'1 km depth',36,{align:'right',fill:'#222'});
});

chart.setOption({animation:false,backgroundColor:'#fff',grid:grids,xAxis:xAxes,yAxis:yAxes,series,graphic:{elements:graphic}});
</script></body></html>
